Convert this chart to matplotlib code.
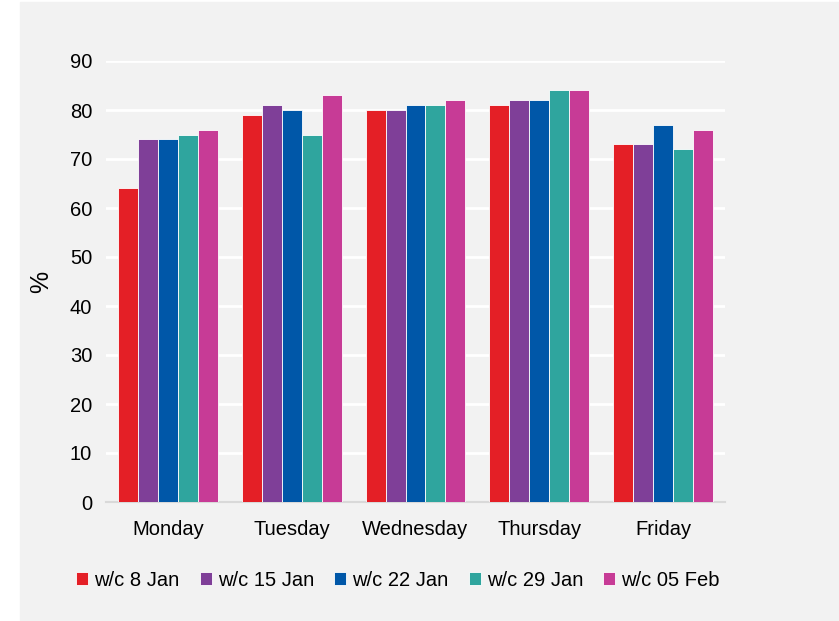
import numpy as np
import matplotlib.pyplot as plt
from matplotlib.patches import Rectangle

plt.rc('font', family=['Liberation Sans', 'DejaVu Sans'], size=14.5)

days = ['Monday', 'Tuesday', 'Wednesday', 'Thursday', 'Friday']
weeks = ['w/c 8 Jan', 'w/c 15 Jan', 'w/c 22 Jan', 'w/c 29 Jan', 'w/c 05 Feb']
colours = ['#e41f26', '#7f3f98', '#0057a8', '#2fa59e', '#c73b96']

wc_8jan = [64, 79, 80, 81, 73]
wc_15jan = [74, 81, 80, 82, 73]
wc_22jan = [74, 80, 81, 82, 77]
wc_29jan = [75, 75, 81, 84, 72]
wc_05feb = [76, 83, 82, 84, 76]
series = [wc_8jan, wc_15jan, wc_22jan, wc_29jan, wc_05feb]

fig = plt.figure(figsize=(8.39, 6.21), dpi=100, facecolor='white')
fig.patches.append(Rectangle((20 / 839, 1 / 621), 1, 618 / 621,
                             transform=fig.transFigure, color='#f2f2f2',
                             zorder=-10))
ax = fig.add_axes([106 / 839, 1 - 502 / 621, 619 / 839, 441 / 621])
ax.set_facecolor('#f2f2f2')

x = np.arange(len(days))
w = 0.161
for i, (vals, c, lab) in enumerate(zip(series, colours, weeks)):
    ax.bar(x + (i - 2) * w, vals, w, color=c, edgecolor='white',
           linewidth=0.6, label=lab, zorder=3)

ax.set_xlim(-0.5, 4.5)
ax.set_ylim(0, 90)
ax.set_yticks(range(0, 91, 10))
ax.set_xticks(x)
ax.set_xticklabels(days)
ax.yaxis.grid(True, color='white', linewidth=2, zorder=0)
ax.set_axisbelow(True)
ax.tick_params(length=0, pad=10)
ax.tick_params(axis='x', pad=13)
for s in ['top', 'left', 'right']:
    ax.spines[s].set_visible(False)
ax.spines['bottom'].set_color('#d9d9d9')
ax.spines['bottom'].set_linewidth(1.5)
ax.set_ylabel('%', fontsize=18, labelpad=12)

fig.legend(loc='center', bbox_to_anchor=(398 / 839, 1 - 580 / 621), ncol=5,
           frameon=False, handlelength=0.6, handleheight=0.6,
           handletextpad=0.3, columnspacing=1.0, fontsize=14.5)

fig.savefig('out.png', dpi=100, facecolor=fig.get_facecolor())
